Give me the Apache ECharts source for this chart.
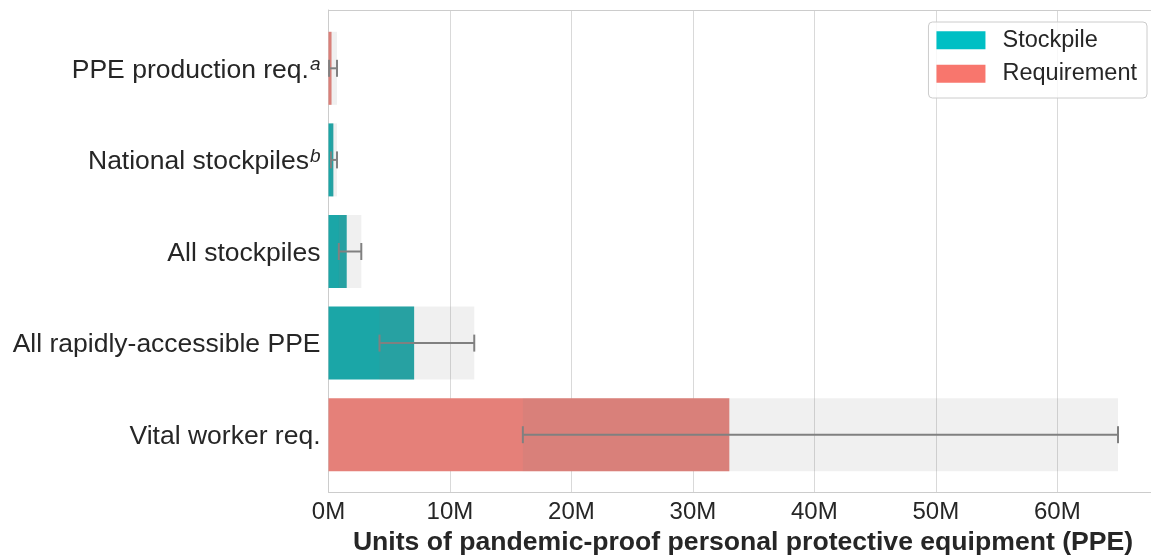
<!DOCTYPE html>
<html>
<head>
<meta charset="utf-8">
<title>PPE units</title>
<script src="https://cdn.jsdelivr.net/npm/echarts@6/dist/echarts.min.js"></script>
<style>
  html, body { margin: 0; padding: 0; background: #fff; }
  #container { width: 1151px; height: 555px; }
</style>
</head>
<body>
<div id="container"></div>
<script type="text/javascript">
    // categories, top to bottom
    var categories = ['PPE production req.', 'National stockpiles', 'All stockpiles', 'All rapidly-accessible PPE', 'Vital worker req.'];
    var supers = ['a', 'b', '', '', ''];
    var kinds = ['Requirement', 'Stockpile', 'Stockpile', 'Stockpile', 'Requirement'];
    // central estimate and error range (units)
    var values = [250000, 400000, 1500000, 7050000, 33000000];
    var lows = [50000, 200000, 850000, 4200000, 16000000];
    var highs = [700000, 700000, 2700000, 12000000, 65000000];
    var xTicks = ['0M', '10M', '20M', '30M', '40M', '50M', '60M'];

    var font = 'Liberation Sans, Arial, sans-serif';
    var xMax = 68250000;
    var spine = { show: true, lineStyle: { color: '#cccccc', width: 1 } };

    var stockData = [], reqData = [], baseData = [], rangeData = [], errData = [];
    for (var i = 0; i < categories.length; i++) {
        stockData.push(kinds[i] == 'Stockpile' ? values[i] : '-');
        reqData.push(kinds[i] == 'Requirement' ? values[i] : '-');
        baseData.push(lows[i]);
        rangeData.push(highs[i] - lows[i]);
        errData.push([i, lows[i], highs[i]]);
    }

    var mychart = echarts.init(document.getElementById('container'));

    var options = {
        animation: false,
        backgroundColor: '#ffffff',
        legend: {
            orient: 'vertical',
            right: 4,
            top: 22,
            padding: [6.25, 10, 12.25, 8],
            itemWidth: 49,
            itemHeight: 18,
            itemGap: 9.5,
            icon: 'rect',
            backgroundColor: 'rgba(255,255,255,0.8)',
            borderColor: '#cccccc',
            borderWidth: 1,
            borderRadius: 4,
            textStyle: { fontFamily: font, fontSize: 23.5, color: '#262626', padding: [0, 0, 0, 12] },
            data: [
                { name: 'Stockpile', itemStyle: { color: '#00bfc4' } },
                { name: 'Requirement', itemStyle: { color: '#f8766d' } }
            ]
        },
        grid: [
            // frame, x axis and gridlines
            { left: 328.5, top: 10, width: 829, height: 482, outerBoundsMode: 'none' },
            // bars (category axis padded inside frame)
            { left: 328.5, top: 22.5, width: 829, height: 458, outerBoundsMode: 'none' }
        ],
        xAxis: [
            {
                gridIndex: 0,
                type: 'value',
                min: 0,
                max: xMax,
                interval: 10000000,
                axisLine: spine,
                axisTick: { show: false },
                splitLine: { show: true, lineStyle: { color: '#d9d9d9', width: 1 } },
                axisLabel: {
                    margin: 8,
                    fontFamily: font,
                    fontSize: 24,
                    color: '#262626',
                    showMaxLabel: false,
                    formatter: function (v) {
                        var k = Math.round(v / 10000000);
                        return xTicks[k] !== undefined ? xTicks[k] : '';
                    }
                },
                name: 'Units of pandemic-proof personal protective equipment (PPE)',
                nameLocation: 'middle',
                nameGap: 36,
                nameTextStyle: { fontFamily: font, fontSize: 26.6, fontWeight: 'bold', color: '#262626' }
            },
            {
                gridIndex: 1,
                type: 'value',
                min: 0,
                max: xMax,
                show: false
            },
            {
                // top spine
                gridIndex: 0,
                type: 'value',
                position: 'top',
                min: 0,
                max: xMax,
                axisLine: spine,
                axisTick: { show: false },
                axisLabel: { show: false },
                splitLine: { show: false }
            }
        ],
        yAxis: [
            {
                gridIndex: 0,
                type: 'value',
                min: 0,
                max: 1,
                axisLine: spine,
                axisTick: { show: false },
                axisLabel: { show: false },
                splitLine: { show: false }
            },
            {
                gridIndex: 1,
                type: 'category',
                inverse: true,
                data: categories,
                axisLine: { show: false },
                axisTick: { show: false },
                splitLine: { show: false },
                axisLabel: {
                    margin: 8,
                    padding: [4, 0, 0, 0],
                    formatter: function (v, idx) {
                        var s = supers[idx];
                        return '{n|' + v + '}' + (s ? '{s|' + s + '}' : '');
                    },
                    rich: {
                        n: { fontFamily: font, fontSize: 26.5, color: '#262626', lineHeight: 30 },
                        s: { fontFamily: font, fontSize: 19, fontStyle: 'italic', color: '#262626', lineHeight: 18, verticalAlign: 'top', padding: [0, 0, 0, 1] }
                    }
                }
            }
        ],
        series: [
            {
                name: 'Stockpile',
                type: 'bar',
                xAxisIndex: 1, yAxisIndex: 1,
                stack: 'val',
                barWidth: 73,
                barGap: '-100%',
                itemStyle: { color: '#1ba6a7' },
                data: stockData,
                z: 2
            },
            {
                name: 'Requirement',
                type: 'bar',
                xAxisIndex: 1, yAxisIndex: 1,
                stack: 'val',
                barWidth: 73,
                barGap: '-100%',
                itemStyle: { color: '#e58079' },
                data: reqData,
                z: 2
            },
            {
                name: 'base',
                type: 'bar',
                xAxisIndex: 1, yAxisIndex: 1,
                stack: 'range',
                barWidth: 73,
                barGap: '-100%',
                itemStyle: { color: 'rgba(0,0,0,0)' },
                data: baseData,
                silent: true,
                z: 3
            },
            {
                name: 'range',
                type: 'bar',
                xAxisIndex: 1, yAxisIndex: 1,
                stack: 'range',
                barWidth: 73,
                barGap: '-100%',
                itemStyle: { color: 'rgba(128,128,128,0.12)' },
                data: rangeData,
                silent: true,
                z: 3
            },
            {
                name: 'error',
                type: 'custom',
                xAxisIndex: 1, yAxisIndex: 1,
                z: 4,
                silent: true,
                data: errData,
                encode: { y: 0, x: [1, 2] },
                renderItem: function (params, api) {
                    var c = api.value(0);
                    var p1 = api.coord([api.value(1), c]);
                    var p2 = api.coord([api.value(2), c]);
                    var h = 8.5;
                    var st = { stroke: '#808080', lineWidth: 2 };
                    return {
                        type: 'group',
                        children: [
                            { type: 'line', shape: { x1: p1[0], y1: p1[1], x2: p2[0], y2: p2[1] }, style: st },
                            { type: 'line', shape: { x1: p1[0], y1: p1[1] - h, x2: p1[0], y2: p1[1] + h }, style: st },
                            { type: 'line', shape: { x1: p2[0], y1: p2[1] - h, x2: p2[0], y2: p2[1] + h }, style: st }
                        ]
                    };
                }
            }
        ]
    };

    mychart.setOption(options);
</script>
</body>
</html>
